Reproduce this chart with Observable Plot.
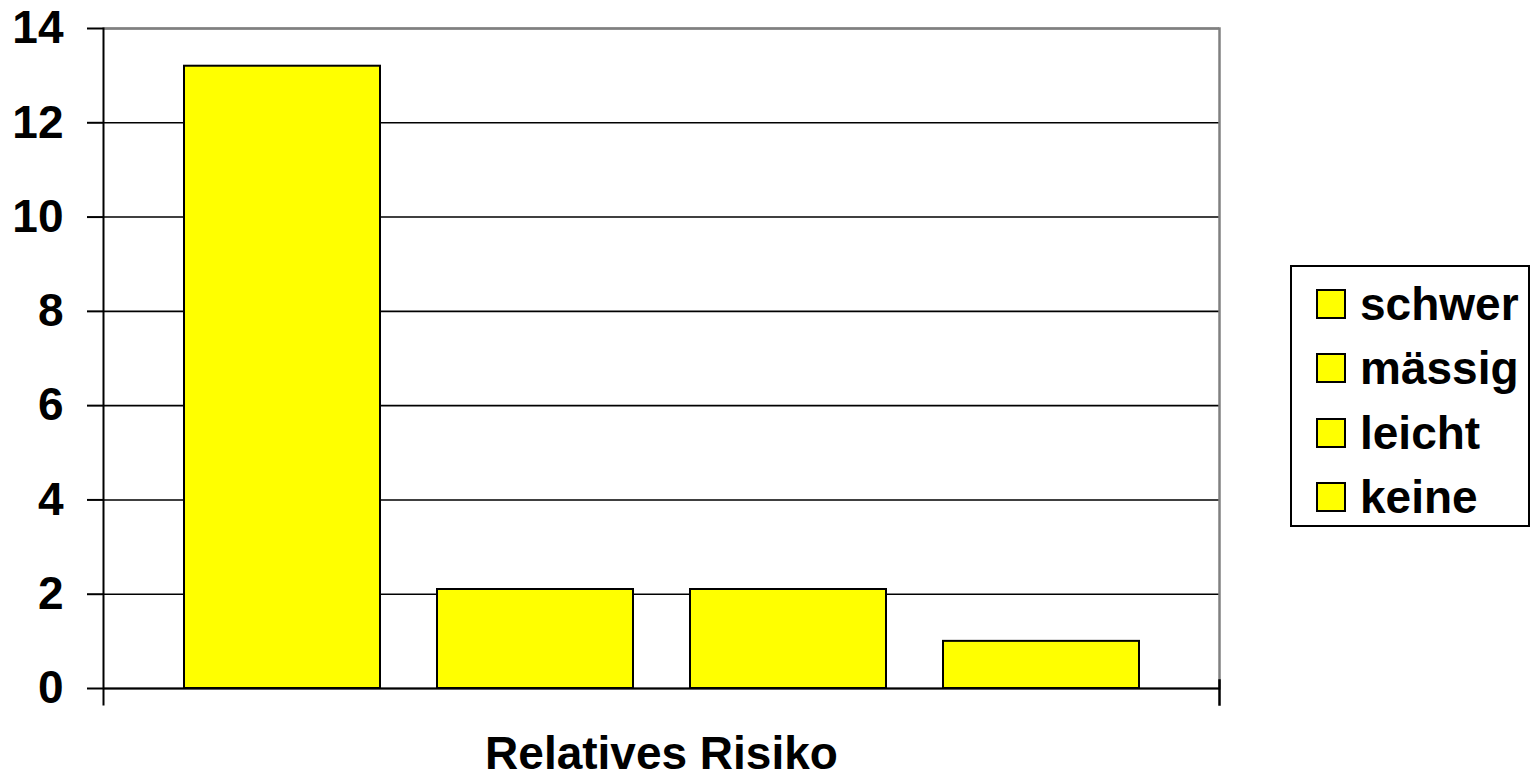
<!DOCTYPE html>
<html>
<head>
<meta charset="utf-8">
<script src="https://cdn.jsdelivr.net/npm/d3@7"></script>
<script src="https://cdn.jsdelivr.net/npm/@observablehq/plot@0.6"></script>
<style>
  html, body { margin: 0; padding: 0; background: #fff; }
  #wrap { position: relative; width: 1530px; height: 778px; font-family: "Liberation Sans", Arial, sans-serif; font-weight: bold; }
  #legend { position: absolute; left: 1290px; top: 265px; width: 236px; height: 258px; border: 2px solid #000; background: #fff; box-sizing: content-box; }
  .row { position: absolute; left: 24px; height: 64px; display: flex; align-items: center; font-size: 46px; color: #000; white-space: nowrap; }
  .sw { width: 26px; height: 26px; border: 2px solid #000; margin-right: 14px; }
</style>
</head>
<body>
<div id="wrap"></div>
<script>
const series = ["schwer", "mässig", "leicht", "keine"];
const values = [13.2, 2.1, 2.1, 1.0];
const yTicks = [0, 2, 4, 6, 8, 10, 12, 14];
const xLabel = "Relatives Risiko";
const barColor = "#ffff00";

const data = series.map((s, i) => ({series: s, value: values[i]}));

const chart = Plot.plot({
  width: 1530,
  height: 778,
  marginLeft: 103,
  marginRight: 311,
  marginTop: 28,
  marginBottom: 90,
  style: {fontFamily: "'Liberation Sans', Arial, sans-serif", fontWeight: "bold", fontSize: "46px", color: "#000", background: "#fff", overflow: "visible"},
  x: {domain: series, paddingInner: 0.2253, paddingOuter: 0.318, axis: null},
  y: {domain: [0, 14], ticks: yTicks, tickSize: 0, label: null},
  marks: [
    Plot.gridY(yTicks, {stroke: "#000", strokeOpacity: 1, strokeWidth: 1.6}),
    Plot.ruleY([14], {stroke: "#808080", strokeWidth: 2.5}),
    Plot.frame({anchor: "right", stroke: "#808080", strokeWidth: 2.5}),
    Plot.barY(data, {x: "series", y: "value", fill: barColor, stroke: "#000", strokeWidth: 2}),
    Plot.ruleY([0], {stroke: "#000", strokeWidth: 2}),
    Plot.frame({anchor: "left", stroke: "#000", strokeWidth: 2, insetBottom: -16}),
    Plot.frame({anchor: "right", stroke: "#000", strokeWidth: 2.5, insetTop: 652, insetBottom: -16}),
    Plot.axisY({ticks: yTicks, tickSize: 16, tickPadding: 24, stroke: "#000", strokeWidth: 2, fontSize: 46, tickFormat: d => String(d)}),
    Plot.text([xLabel], {frameAnchor: "bottom", dy: 80, fontSize: 46, fontWeight: "bold", fill: "#000"})
  ]
});

const wrap = document.getElementById("wrap");
wrap.appendChild(chart);

const legend = document.createElement("div");
legend.id = "legend";
series.forEach((s, i) => {
  const row = document.createElement("div");
  row.className = "row";
  row.style.top = (5 + i * 64.3) + "px";
  const sw = document.createElement("div");
  sw.className = "sw";
  sw.style.background = barColor;
  const t = document.createElement("span");
  t.textContent = s;
  row.appendChild(sw);
  row.appendChild(t);
  legend.appendChild(row);
});
wrap.appendChild(legend);
</script>
</body>
</html>
